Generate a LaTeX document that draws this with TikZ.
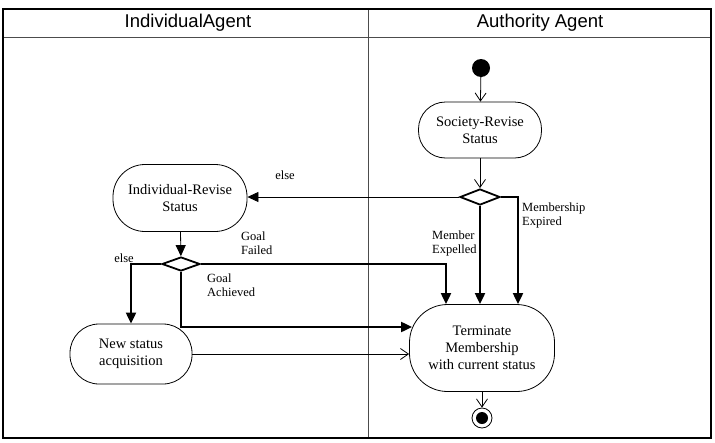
\documentclass[tikz,border=0pt]{standalone}
\usepackage{fontspec}
\setmainfont{Liberation Serif}
\newfontfamily\lanefont{Liberation Sans}
\usetikzlibrary{arrows.meta, shapes.geometric}

\begin{document}
\begin{tikzpicture}[
    x=1pt, y=-1pt,
    activity/.style={
        draw,
        line width=0.8pt,
        align=center,
        inner sep=0pt,
        font=\fontsize{14.5}{17}\selectfont,
    },
    branch/.style={
        diamond,
        draw,
        line width=1.8pt,
        aspect=2.5,
        minimum width=40pt,
        minimum height=16pt,
        inner sep=0pt,
    },
    flow/.style={
        line width=0.8pt,
        -{Straight Barb[length=8pt, width=11pt]},
    },
    guard/.style={
        line width=0.8pt,
        -{Triangle[length=11pt, width=10pt]},
    },
    fork/.style={
        line width=2pt,
        -{Triangle[length=11pt, width=10pt]},
    },
    note/.style={
        font=\fontsize{12.5}{14}\selectfont,
        align=left,
        inner sep=0pt,
    },
    lane/.style={
        font=\lanefont\fontsize{18.5}{20}\selectfont,
    }
]
    \useasboundingbox (0,0) rectangle (715,442);

    % Swimlanes
    \draw[line width=1pt, black!70] (3,37) -- (711,37);
    \draw[line width=0.8pt, black!70] (368,9) -- (368,438);
    \draw[line width=2pt] (3,9) rectangle (711,438);
    \node[lane] (laneI) at (188,23) {IndividualAgent};
    \node[lane] (laneA) at (540,23) {Authority Agent};

    % Nodes
    \node[circle, fill=black, minimum size=18pt, inner sep=0pt] (start) at (481,68) {};
    \node[activity, rounded corners=27pt, minimum width=123pt, minimum height=56pt] (society) at (480,130) {Society-Revise\\Status};
    \node[branch] (decideA) at (480,197) {};
    \node[activity, rounded corners=32pt, minimum width=134pt, minimum height=67pt] (indiv) at (180,198) {Individual-Revise\\Status};
    \node[branch, minimum width=38pt, minimum height=14pt] (decideI) at (181,264) {};
    \node[activity, rounded corners=29pt, minimum width=122pt, minimum height=60pt] (newstatus) at (131,354) {New status\\acquisition};
    \node[activity, rounded corners=38pt, minimum width=145pt, minimum height=87pt] (terminate) at (482,348) {Terminate\\Membership\\with current status};
    \node[circle, draw, line width=0.8pt, minimum size=20pt, inner sep=0pt] (finish) at (482,418) {};
    \fill (finish) circle (6pt);

    % Connectors
    \draw[flow] (start) -- (society);
    \draw[flow] (society) -- (decideA);
    \draw[guard] (decideA.west) -- (decideA.west -| indiv.east);
    \draw[fork] (decideA.south) -- (decideA.south |- terminate.north);
    \draw[fork] (decideA.east) -| ([xshift=36pt]terminate.north);
    \draw[guard] (indiv) -- (decideI);
    \draw[fork] (decideI.west) -| (newstatus.north);
    \draw[fork] (decideI.east) -| ([xshift=-36pt]terminate.north);
    \draw[fork] (decideI.south) |- ([xshift=3pt, yshift=21pt]terminate.west);
    \draw[flow] (newstatus.east) -- (newstatus.east -| terminate.west);
    \draw[flow] (terminate) -- (finish);

    % Guard labels
    \node[note] (elseA) at (285,175) {else};
    \node[note, anchor=west] (expelled) at (432,243) {Member\\Expelled};
    \node[note, anchor=west] (expired) at (522,215) {Membership\\Expired};
    \node[note, anchor=west] (failed) at (241,243) {Goal\\Failed};
    \node[note] (elseI) at (124,258) {else};
    \node[note, anchor=west] (achieved) at (207,285) {Goal\\Achieved};
\end{tikzpicture}
\end{document}
